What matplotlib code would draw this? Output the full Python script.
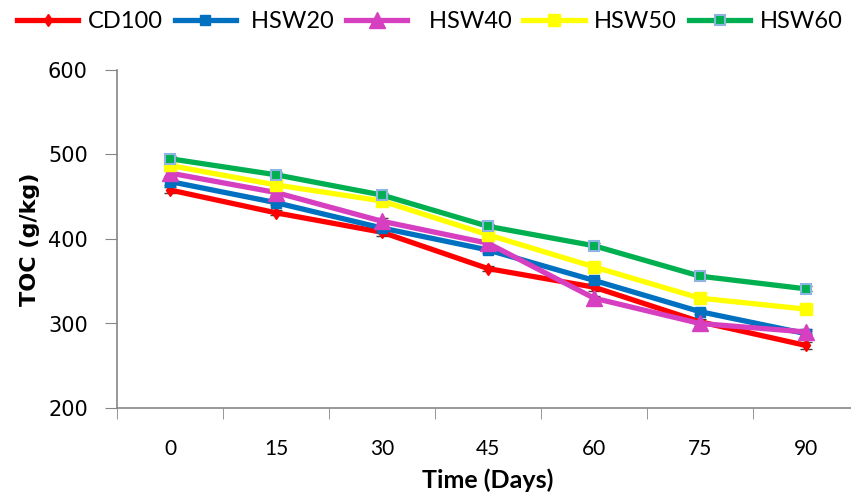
import matplotlib.pyplot as plt
import numpy as np

days = ["0", "15", "30", "45", "60", "75", "90"]

cd100 = [458, 431, 408, 365, 343, 302, 274]
hsw20 = [468, 443, 413, 387, 351, 314, 288]
hsw40 = [478, 455, 421, 395, 330, 300, 290]
hsw50 = [487, 464, 445, 405, 367, 330, 317]
hsw60 = [495, 476, 452, 415, 392, 356, 341]

cd100_err = [4, 3, 4, 3, 4, 3, 4]
hsw20_err = [4, 3, 3, 3, 3, 3, 3]
hsw40_err = [3, 3, 4, 3, 3, 3, 3]
hsw50_err = [3, 3, 3, 3, 3, 3, 3]
hsw60_err = [3, 3, 3, 3, 3, 3, 3]

series = [
    ("CD100", cd100, cd100_err, "#FF0000", dict(marker="d", markersize=6, markerfacecolor="#FF0000", markeredgecolor="#FF0000")),
    (" HSW20", hsw20, hsw20_err, "#0070C0", dict(marker="s", markersize=7, markerfacecolor="#0070C0", markeredgecolor="#0070C0")),
    ("  HSW40", hsw40, hsw40_err, "#D63FBF", dict(marker="^", markersize=11, markerfacecolor="#D63FBF", markeredgecolor="#D63FBF")),
    ("HSW50", hsw50, hsw50_err, "#FFFF00", dict(marker="s", markersize=8, markerfacecolor="#FFFF00", markeredgecolor="#FFFF00")),
    ("HSW60", hsw60, hsw60_err, "#00B050", dict(marker="s", markersize=7, markerfacecolor="#00B050", markeredgecolor="#8DB4E2", markeredgewidth=1.5)),
]

fig = plt.figure(figsize=(8.51, 4.92), dpi=100)
ax = fig.add_axes([117 / 851, 84 / 492, 742 / 851, 338 / 492])

x = np.arange(len(days))
for label, vals, err, color, mk in series:
    ax.errorbar(x, vals, yerr=err, fmt="none", ecolor="#404040", elinewidth=1, capsize=4, capthick=1, zorder=2)
    ax.plot(x, vals, color=color, linewidth=3.8, label=label, zorder=3, **mk)

ax.set_xlim(-0.5, len(days) - 0.5)
ax.set_ylim(200, 600)
ax.set_yticks([200, 300, 400, 500, 600])
ax.set_xticks(x)
ax.set_xticklabels(days, fontfamily="Lato", fontsize=15)
ax.set_xticks(np.arange(-0.5, len(days)), minor=True)
ax.tick_params(axis="x", which="major", length=0, pad=22)
ax.tick_params(axis="x", which="minor", length=8, color="#868686", direction="out")
ax.tick_params(axis="y", length=9, color="#868686", direction="out", pad=12, labelsize=15)

for side in ["top", "right"]:
    ax.spines[side].set_visible(False)
for side in ["left", "bottom"]:
    ax.spines[side].set_color("#868686")
    ax.spines[side].set_linewidth(1.2)

ax.set_xlabel("Time (Days)", fontfamily="Lato", fontweight="bold", fontsize=18, labelpad=7)
ax.set_ylabel("TOC (g/kg)", fontweight="bold", fontsize=16, labelpad=6)

fig.legend(
    loc="upper center",
    bbox_to_anchor=(0.505, 1.02),
    ncol=5,
    frameon=False,
    prop={"family": "Lato", "size": 17},
    handlelength=2.6,
    handletextpad=0.4,
    columnspacing=0.5,
)

fig.savefig("out.png", dpi=100)
